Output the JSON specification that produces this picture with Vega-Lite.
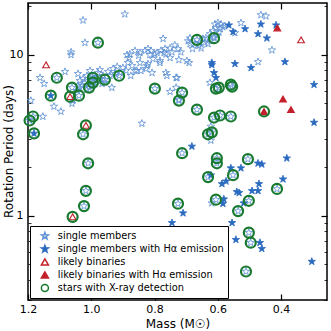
{
  "$schema": "https://vega.github.io/schema/vega-lite/v6.json",
  "width": 299,
  "height": 297,
  "autosize": "none",
  "padding": {"left": 28, "top": 3, "right": 4, "bottom": 31},
  "config": {
    "font": "DejaVu Sans",
    "view": {"stroke": "#000000", "strokeWidth": 1.5},
    "axis": {"domain": false, "grid": false, "tickColor": "#000000", "labelColor": "#000000", "titleColor": "#000000", "labelFontSize": 11, "titleFontSize": 12, "titleFontWeight": "normal"},
    "legend": {"orient": "bottom-left", "offset": 2, "strokeColor": "#000000", "fillColor": "#ffffff", "padding": 4, "labelFontSize": 9.8, "rowPadding": 1, "clipHeight": 12, "symbolSize": 50, "symbolOffset": 6, "labelOffset": 8, "labelLimit": 300}
  },
  "datasets": {
    "stars": [
      {"m":1.026,"p":16.4,"t":"s","x":0},{"m":0.894,"p":17.9,"t":"s","x":0},{"m":1.020,"p":11.9,"t":"s","x":0},{"m":1.064,"p":10.4,"t":"s","x":0},{"m":1.064,"p":10.0,"t":"s","x":0},
      {"m":0.773,"p":12.6,"t":"s","x":0},{"m":0.887,"p":10.0,"t":"s","x":0},{"m":0.881,"p":9.58,"t":"s","x":0},{"m":1.083,"p":7.86,"t":"s","x":0},{"m":1.042,"p":7.63,"t":"s","x":0},
      {"m":1.162,"p":7.21,"t":"s","x":0},{"m":1.149,"p":6.62,"t":"s","x":0},{"m":1.191,"p":5.20,"t":"s","x":0},{"m":1.118,"p":4.78,"t":"s","x":0},{"m":1.096,"p":4.45,"t":"s","x":0},
      {"m":1.153,"p":4.14,"t":"s","x":0},{"m":1.061,"p":4.99,"t":"s","x":0},{"m":0.935,"p":6.26,"t":"s","x":0},{"m":0.840,"p":3.75,"t":"s","x":0},{"m":0.973,"p":8.08,"t":"s","x":0},
      {"m":0.947,"p":7.86,"t":"s","x":0},{"m":1.004,"p":7.97,"t":"s","x":0},{"m":1.036,"p":6.91,"t":"s","x":0},{"m":1.020,"p":6.72,"t":"s","x":0},{"m":1.045,"p":5.99,"t":"s","x":0},
      {"m":1.014,"p":6.08,"t":"s","x":0},{"m":0.995,"p":6.44,"t":"s","x":0},{"m":0.973,"p":7.11,"t":"s","x":0},{"m":0.963,"p":7.42,"t":"s","x":0},{"m":0.941,"p":7.42,"t":"s","x":0},
      {"m":0.925,"p":7.63,"t":"s","x":0},{"m":0.982,"p":6.91,"t":"s","x":0},{"m":1.004,"p":6.91,"t":"s","x":0},{"m":1.029,"p":6.44,"t":"s","x":0},{"m":1.042,"p":6.44,"t":"s","x":0},
      {"m":1.058,"p":5.20,"t":"s","x":0},{"m":0.988,"p":6.62,"t":"s","x":0},{"m":1.010,"p":6.53,"t":"s","x":0},{"m":0.998,"p":7.31,"t":"s","x":0},{"m":0.957,"p":6.72,"t":"s","x":0},
      {"m":0.909,"p":7.74,"t":"s","x":0},{"m":0.900,"p":8.31,"t":"s","x":0},{"m":0.871,"p":8.55,"t":"s","x":0},{"m":0.856,"p":7.97,"t":"s","x":0},{"m":0.846,"p":8.93,"t":"s","x":0},
      {"m":0.824,"p":8.55,"t":"s","x":0},{"m":0.808,"p":7.74,"t":"s","x":0},{"m":0.783,"p":9.18,"t":"s","x":0},{"m":0.764,"p":7.74,"t":"s","x":0},{"m":0.761,"p":7.42,"t":"s","x":0},
      {"m":0.821,"p":10.9,"t":"s","x":0},{"m":0.792,"p":10.3,"t":"s","x":0},{"m":0.878,"p":10.1,"t":"s","x":0},{"m":0.862,"p":10.6,"t":"s","x":0},{"m":0.846,"p":10.3,"t":"s","x":0},
      {"m":0.830,"p":10.6,"t":"s","x":0},{"m":0.811,"p":10.6,"t":"s","x":0},{"m":0.799,"p":10.1,"t":"s","x":0},{"m":0.780,"p":10.6,"t":"s","x":0},{"m":0.767,"p":10.9,"t":"s","x":0},
      {"m":0.764,"p":10.1,"t":"s","x":0},{"m":0.751,"p":9.58,"t":"s","x":0},{"m":0.805,"p":9.44,"t":"s","x":0},{"m":0.821,"p":8.80,"t":"s","x":0},{"m":0.843,"p":7.97,"t":"s","x":0},
      {"m":0.862,"p":7.97,"t":"s","x":0},{"m":0.875,"p":7.42,"t":"s","x":0},{"m":0.827,"p":8.20,"t":"s","x":0},{"m":0.783,"p":8.93,"t":"s","x":0},{"m":0.736,"p":11.5,"t":"s","x":0},
      {"m":0.726,"p":10.9,"t":"s","x":0},{"m":0.717,"p":10.4,"t":"s","x":0},{"m":0.694,"p":12.2,"t":"s","x":0},{"m":0.688,"p":11.7,"t":"s","x":0},{"m":0.698,"p":9.18,"t":"s","x":0},
      {"m":0.723,"p":9.31,"t":"s","x":0},{"m":0.729,"p":7.21,"t":"s","x":0},{"m":0.751,"p":5.91,"t":"s","x":0},{"m":0.732,"p":6.26,"t":"s","x":0},{"m":0.723,"p":5.28,"t":"s","x":0},
      {"m":0.625,"p":6.72,"t":"s","x":0},{"m":0.672,"p":11.7,"t":"s","x":0},{"m":0.657,"p":11.9,"t":"s","x":0},{"m":0.647,"p":12.6,"t":"s","x":0},{"m":0.638,"p":12.7,"t":"s","x":0},
      {"m":0.641,"p":11.9,"t":"s","x":0},{"m":0.625,"p":13.5,"t":"s","x":0},{"m":0.615,"p":14.1,"t":"s","x":0},{"m":0.606,"p":14.7,"t":"s","x":0},{"m":0.600,"p":15.8,"t":"s","x":0},
      {"m":0.590,"p":15.5,"t":"s","x":0},{"m":0.578,"p":15.1,"t":"s","x":0},{"m":0.609,"p":15.5,"t":"s","x":0},{"m":0.593,"p":14.5,"t":"s","x":0},{"m":0.622,"p":12.2,"t":"s","x":0},
      {"m":0.631,"p":11.7,"t":"s","x":0},{"m":0.653,"p":11.0,"t":"s","x":0},{"m":0.688,"p":12.7,"t":"s","x":0},{"m":0.751,"p":11.0,"t":"s","x":0},{"m":0.464,"p":17.7,"t":"s","x":0},
      {"m":0.448,"p":17.4,"t":"s","x":0},{"m":0.527,"p":15.8,"t":"s","x":0},{"m":0.546,"p":13.7,"t":"s","x":0},{"m":0.429,"p":10.7,"t":"s","x":0},{"m":0.473,"p":9.05,"t":"s","x":0},
      {"m":0.622,"p":3.59,"t":"s","x":0},{"m":0.622,"p":2.94,"t":"s","x":0},{"m":0.619,"p":1.20,"t":"s","x":0},{"m":1.026,"p":7.11,"t":"s","x":0},{"m":0.988,"p":7.21,"t":"s","x":0},
      {"m":1.014,"p":7.42,"t":"s","x":0},{"m":0.979,"p":7.74,"t":"s","x":0},{"m":1.036,"p":6.26,"t":"s","x":0},{"m":0.966,"p":6.62,"t":"s","x":0},{"m":0.931,"p":8.20,"t":"s","x":0},
      {"m":0.918,"p":8.43,"t":"s","x":0},{"m":0.890,"p":7.97,"t":"s","x":0},{"m":0.884,"p":8.93,"t":"s","x":0},{"m":0.691,"p":8.93,"t":"s","x":0},{"m":0.732,"p":7.21,"t":"s","x":0},
      {"m":0.603,"p":13.2,"t":"s","x":0},{"m":0.612,"p":12.9,"t":"s","x":0},{"m":0.596,"p":13.8,"t":"s","x":0},{"m":0.584,"p":14.9,"t":"s","x":0},{"m":0.660,"p":11.4,"t":"s","x":0},
      {"m":0.680,"p":10.9,"t":"s","x":0},{"m":0.745,"p":10.4,"t":"s","x":0},{"m":0.770,"p":10.3,"t":"s","x":0},{"m":0.815,"p":10.0,"t":"s","x":0},{"m":0.850,"p":9.9,"t":"s","x":0},
      {"m":0.565,"p":15.3,"t":"sh","x":0},{"m":0.514,"p":14.5,"t":"sh","x":0},{"m":0.464,"p":15.5,"t":"sh","x":0},{"m":0.473,"p":13.5,"t":"sh","x":0},{"m":0.445,"p":12.7,"t":"sh","x":0},
      {"m":0.416,"p":15.3,"t":"sh","x":0},{"m":0.552,"p":13.9,"t":"sh","x":0},{"m":0.388,"p":9.05,"t":"sh","x":0},{"m":0.546,"p":8.80,"t":"sh","x":0},{"m":0.495,"p":8.31,"t":"sh","x":0},
      {"m":0.296,"p":6.53,"t":"sh","x":0},{"m":0.296,"p":3.80,"t":"sh","x":0},{"m":0.619,"p":8.93,"t":"sh","x":0},{"m":0.619,"p":8.67,"t":"sh","x":0},{"m":0.612,"p":7.74,"t":"sh","x":0},
      {"m":0.606,"p":7.21,"t":"sh","x":0},{"m":0.682,"p":2.70,"t":"sh","x":0},{"m":0.559,"p":1.98,"t":"sh","x":0},{"m":0.527,"p":1.98,"t":"sh","x":0},{"m":0.473,"p":2.12,"t":"sh","x":0},
      {"m":0.461,"p":2.09,"t":"sh","x":0},{"m":0.382,"p":2.28,"t":"sh","x":0},{"m":0.587,"p":1.58,"t":"sh","x":0},{"m":0.574,"p":1.64,"t":"sh","x":0},{"m":0.622,"p":1.79,"t":"sh","x":0},
      {"m":0.540,"p":1.41,"t":"sh","x":0},{"m":0.533,"p":1.39,"t":"sh","x":0},{"m":0.492,"p":1.43,"t":"sh","x":0},{"m":0.473,"p":1.43,"t":"sh","x":0},{"m":0.470,"p":1.58,"t":"sh","x":0},
      {"m":0.394,"p":1.69,"t":"sh","x":0},{"m":0.584,"p":1.19,"t":"sh","x":0},{"m":0.581,"p":1.27,"t":"sh","x":0},{"m":0.518,"p":1.20,"t":"sh","x":0},{"m":0.710,"p":1.04,"t":"sh","x":0},
      {"m":0.745,"p":0.905,"t":"sh","x":0},{"m":0.555,"p":0.905,"t":"sh","x":0},{"m":0.543,"p":0.711,"t":"sh","x":0},{"m":0.467,"p":0.681,"t":"sh","x":0},{"m":0.461,"p":0.625,"t":"sh","x":0},
      {"m":0.303,"p":0.520,"t":"sh","x":0},
      {"m":0.979,"p":11.9,"t":"s","x":1},{"m":1.109,"p":7.21,"t":"s","x":1},{"m":0.995,"p":7.21,"t":"s","x":1},{"m":0.995,"p":6.72,"t":"s","x":1},{"m":0.957,"p":7.01,"t":"s","x":1},
      {"m":0.912,"p":7.42,"t":"s","x":1},{"m":1.007,"p":6.26,"t":"s","x":1},{"m":1.061,"p":6.26,"t":"s","x":1},{"m":1.039,"p":5.58,"t":"s","x":1},{"m":0.799,"p":6.17,"t":"s","x":1},
      {"m":1.184,"p":4.14,"t":"s","x":1},{"m":1.195,"p":3.91,"t":"s","x":1},{"m":1.026,"p":3.21,"t":"s","x":1},{"m":1.010,"p":2.12,"t":"s","x":1},{"m":1.017,"p":1.43,"t":"s","x":1},
      {"m":1.023,"p":1.15,"t":"s","x":1},{"m":0.666,"p":12.4,"t":"s","x":1},{"m":0.612,"p":12.7,"t":"s","x":1},{"m":0.713,"p":5.83,"t":"s","x":1},{"m":0.723,"p":5.20,"t":"s","x":1},
      {"m":0.505,"p":2.25,"t":"s","x":1},{"m":0.559,"p":6.53,"t":"s","x":1},{"m":0.555,"p":6.35,"t":"s","x":1},{"m":0.606,"p":6.17,"t":"s","x":1},{"m":0.597,"p":6.26,"t":"s","x":1},
      {"m":0.666,"p":4.57,"t":"s","x":1},{"m":0.612,"p":4.08,"t":"s","x":1},{"m":0.593,"p":4.20,"t":"s","x":1},{"m":0.559,"p":4.14,"t":"s","x":1},{"m":0.631,"p":3.21,"t":"s","x":1},
      {"m":0.619,"p":3.30,"t":"s","x":1},{"m":0.713,"p":2.45,"t":"s","x":1},{"m":0.603,"p":2.28,"t":"s","x":1},{"m":0.603,"p":2.12,"t":"s","x":1},{"m":0.631,"p":1.74,"t":"s","x":1},
      {"m":0.552,"p":1.79,"t":"s","x":1},{"m":0.413,"p":1.47,"t":"s","x":1},{"m":0.726,"p":1.19,"t":"s","x":1},{"m":0.606,"p":1.26,"t":"s","x":1},{"m":0.502,"p":1.24,"t":"s","x":1},
      {"m":0.536,"p":1.07,"t":"s","x":1},{"m":0.502,"p":0.786,"t":"s","x":1},{"m":0.496,"p":0.681,"t":"s","x":1},{"m":0.511,"p":0.451,"t":"s","x":1},
      {"m":1.128,"p":5.58,"t":"sh","x":1},{"m":1.181,"p":3.25,"t":"sh","x":1},
      {"m":1.143,"p":8.67,"t":"b","x":0},{"m":0.337,"p":12.4,"t":"b","x":0},
      {"m":1.067,"p":5.50,"t":"b","x":1},{"m":1.017,"p":3.65,"t":"b","x":1},{"m":1.059,"p":0.986,"t":"b","x":1},
      {"m":0.412,"p":14.7,"t":"bh","x":0},{"m":0.394,"p":5.32,"t":"bh","x":0},{"m":0.369,"p":4.57,"t":"bh","x":0},
      {"m":0.454,"p":4.45,"t":"bh","x":1}
    ]
  },
  "data": {"name": "stars"},
  "resolve": {"axis": {"x": "independent", "y": "independent"}},
  "layer": [
    {
      "transform": [{"filter": "datum.t == 's'"}],
      "mark": {"type": "point", "strokeWidth": 0.8, "opacity": 1},
      "encoding": {
        "x": {"field": "m", "type": "quantitative", "scale": {"domain": [0.255, 1.2], "reverse": true, "nice": false, "zero": false},
              "axis": {"orient": "bottom", "offset": -6, "values": [1.2, 1.0, 0.8, 0.6, 0.4], "format": ".1f", "tickSize": 6, "tickWidth": 1.2, "labelPadding": 3, "labelFlush": false, "title": "Mass (M☉)", "titleX": 149.5, "titleY": 29, "titleBaseline": "middle",
                       "encode": {"labels": {"dx": {"condition": {"test": "datum.value > 1.1", "value": -7}, "value": 0}}}}},
        "y": {"field": "p", "type": "quantitative", "scale": {"type": "log", "domain": [0.3, 21], "nice": false},
              "axis": {"orient": "left", "offset": -6, "values": [1, 10], "tickSize": 6, "tickWidth": 1.2, "labelPadding": 5, "title": "Rotation Period (days)", "titleX": -26, "titleY": 148, "titleAngle": -90, "titleBaseline": "middle", "titleAlign": "center"}},
        "shape": {"field": "t", "type": "nominal", "scale": {"domain": ["s", "sh", "b", "bh", "x"], "range": ["M0,-1L0.235,-0.324L0.951,-0.309L0.38,0.124L0.588,0.809L0,0.4L-0.588,0.809L-0.38,0.124L-0.951,-0.309L-0.235,-0.324Z", "M0,-1L0.235,-0.324L0.951,-0.309L0.38,0.124L0.588,0.809L0,0.4L-0.588,0.809L-0.38,0.124L-0.951,-0.309L-0.235,-0.324Z", "triangle-up", "triangle-up", "circle"]},
                  "legend": {"title": null, "labelExpr": "datum.label == 's' ? 'single members' : datum.label == 'sh' ? 'single members with Hα emission' : datum.label == 'b' ? 'likely binaries' : datum.label == 'bh' ? 'likely binaries with Hα emission' : 'stars with X-ray detection'",
                             "encode": {"labels": {"fill": {"condition": [{"test": "datum.value == 'b' || datum.value == 'bh'", "value": "#c4202e"}, {"test": "datum.value == 'x'", "value": "#1c7a30"}], "value": "#3f7cd0"}},
                                        "symbols": {"strokeWidth": {"condition": {"test": "datum.value == 'x'", "value": 2.2}, "value": 1.1}},
                                        "legend": {"strokeWidth": {"value": 2}}}}},
        "fill": {"field": "t", "type": "nominal", "scale": {"domain": ["s", "sh", "b", "bh", "x"], "range": ["transparent", "#2a6abf", "transparent", "#c3202b", "transparent"]},
                 "legend": {"title": null, "labelExpr": "datum.label == 's' ? 'single members' : datum.label == 'sh' ? 'single members with Hα emission' : datum.label == 'b' ? 'likely binaries' : datum.label == 'bh' ? 'likely binaries with Hα emission' : 'stars with X-ray detection'",
                             "encode": {"labels": {"fill": {"condition": [{"test": "datum.value == 'b' || datum.value == 'bh'", "value": "#c4202e"}, {"test": "datum.value == 'x'", "value": "#1c7a30"}], "value": "#3f7cd0"}},
                                        "symbols": {"strokeWidth": {"condition": {"test": "datum.value == 'x'", "value": 2.2}, "value": 1.1}},
                                        "legend": {"strokeWidth": {"value": 2}}}}},
        "stroke": {"field": "t", "type": "nominal", "scale": {"domain": ["s", "sh", "b", "bh", "x"], "range": ["#5b8fd3", "#2a6abf", "#c3202b", "#c3202b", "#187a2f"]},
                   "legend": {"title": null, "labelExpr": "datum.label == 's' ? 'single members' : datum.label == 'sh' ? 'single members with Hα emission' : datum.label == 'b' ? 'likely binaries' : datum.label == 'bh' ? 'likely binaries with Hα emission' : 'stars with X-ray detection'",
                             "encode": {"labels": {"fill": {"condition": [{"test": "datum.value == 'b' || datum.value == 'bh'", "value": "#c4202e"}, {"test": "datum.value == 'x'", "value": "#1c7a30"}], "value": "#3f7cd0"}},
                                        "symbols": {"strokeWidth": {"condition": {"test": "datum.value == 'x'", "value": 2.2}, "value": 1.1}},
                                        "legend": {"strokeWidth": {"value": 2}}}}},
        "size": {"value": 60}
      }
    },
    {
      "transform": [{"filter": "datum.t == 'sh'"}],
      "mark": {"type": "point", "strokeWidth": 0.8, "opacity": 1},
      "encoding": {
        "x": {"field": "m", "type": "quantitative", "axis": {"orient": "top", "offset": -6, "values": [1.2, 1.0, 0.8, 0.6, 0.4], "labels": false, "tickSize": 6, "tickWidth": 1.2, "title": null}},
        "y": {"field": "p", "type": "quantitative", "axis": {"orient": "right", "offset": -6, "values": [1, 10], "labels": false, "tickSize": 6, "tickWidth": 1.2, "title": null}},
        "shape": {"field": "t", "type": "nominal"},
        "fill": {"field": "t", "type": "nominal"},
        "stroke": {"field": "t", "type": "nominal"},
        "size": {"value": 60}
      }
    },
    {
      "transform": [{"filter": "datum.t == 'b' || datum.t == 'bh'"}],
      "mark": {"type": "point", "strokeWidth": 1.1, "opacity": 1},
      "encoding": {
        "x": {"field": "m", "type": "quantitative", "axis": null},
        "y": {"field": "p", "type": "quantitative", "axis": {"orient": "left", "offset": -3, "values": [0.3, 0.4, 0.5, 0.6, 0.7, 0.8, 0.9, 2, 3, 4, 5, 6, 7, 8, 9, 20], "labels": false, "tickSize": 3, "tickWidth": 0.8, "title": null}},
        "shape": {"field": "t", "type": "nominal"},
        "fill": {"field": "t", "type": "nominal"},
        "stroke": {"field": "t", "type": "nominal"},
        "size": {"value": 45}
      }
    },
    {
      "transform": [{"filter": "datum.x == 1"}],
      "mark": {"type": "point", "strokeWidth": 2.2, "opacity": 1},
      "encoding": {
        "x": {"field": "m", "type": "quantitative", "axis": null},
        "y": {"field": "p", "type": "quantitative", "axis": {"orient": "right", "offset": -3, "values": [0.3, 0.4, 0.5, 0.6, 0.7, 0.8, 0.9, 2, 3, 4, 5, 6, 7, 8, 9, 20], "labels": false, "tickSize": 3, "tickWidth": 0.8, "title": null}},
        "shape": {"datum": "x", "type": "nominal"},
        "fill": {"datum": "x", "type": "nominal"},
        "stroke": {"datum": "x", "type": "nominal"},
        "size": {"value": 100}
      }
    }
  ]
}
